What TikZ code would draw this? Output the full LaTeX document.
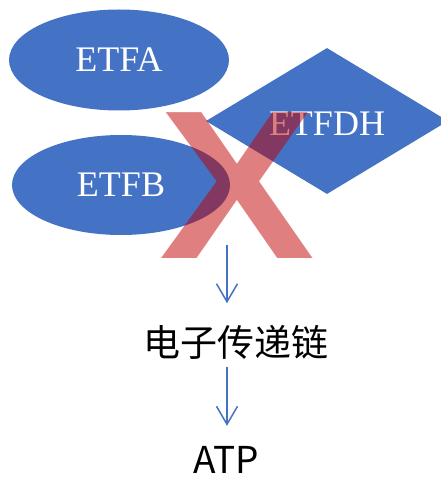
\documentclass[tikz,border=0pt]{standalone}
\usepackage{fontspec}
\setmainfont{Liberation Serif}
\newfontfamily\cjk{Noto Sans CJK SC}
\newfontfamily\crossfont{Liberation Sans}
\usepackage{tikz}
\usetikzlibrary{calc,arrows.meta,shapes.geometric}
\definecolor{protblue}{HTML}{4472C4}
\definecolor{crossred}{HTML}{C00000}

\begin{document}
\begin{tikzpicture}[x=1pt, y=1pt,
		prot/.style={fill=protblue, draw=none, inner sep=0, text=white, font=\fontsize{36}{36}\selectfont},
		flow/.style={draw=protblue, line width=1.5pt, -{Straight Barb[length=18pt, width=21pt, line width=1.5pt]}}]
		%%%%% START %%%%%
		
		\useasboundingbox (0, 0) rectangle (441, 477);
		\clip (0, 0) rectangle (441, 477);
		
		\node[prot, ellipse, minimum width=220pt, minimum height=101pt] (etfa) at (119, 417) {ETFA};
		\node[prot, ellipse, minimum width=218pt, minimum height=100pt] (etfb) at (121, 292) {ETFB};
		\node[prot, diamond, aspect=1.66, minimum width=242pt, minimum height=146pt] (etfdh) at (327, 356) {};
		\node[text=white, font=\fontsize{36}{36}\selectfont] (etfdhlabel) at (327, 353) {ETFDH};
		
		\node[inner sep=0, xscale=1.1, text=crossred, text opacity=0.5, font=\crossfont\bfseries\fontsize{212}{212}\selectfont] (cross) at (237, 291) {X};
		
		\node[inner sep=0, anchor=base, text height=31pt, text depth=3pt, font=\cjk\fontsize{37}{37}\selectfont] (chain) at (236, 120.6) {电子传递链};
		\node[inner sep=0, anchor=base, text height=27pt, text depth=0pt, font=\cjk\fontsize{37}{37}\selectfont] (atp) at (226, 3) {ATP};
		
		\coordinate (start) at (227, 232);
		\draw[flow, shorten >=22pt] (start) -- (start |- chain.north);
		\draw[flow, shorten <=7.5pt, shorten >=21pt] (start |- chain.south) -- (start |- atp.north);
		
		%%%%% END %%%%%
\end{tikzpicture}
\end{document}
